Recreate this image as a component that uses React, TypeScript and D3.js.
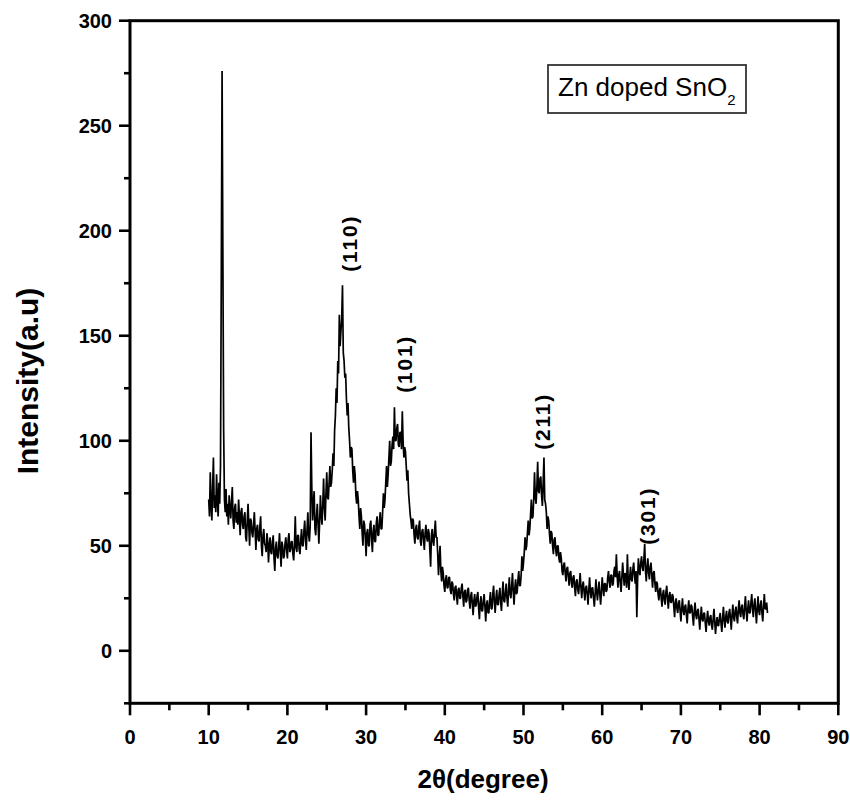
import React from "react";
import * as d3 from "d3";

const startAngle = 10.0;
const stepAngle = 0.1;
const intensity: number[] = [
  72, 64, 85, 70, 62, 78, 92, 68, 74, 66, 84, 72, 64, 80, 70, 88, 179, 276, 190, 105,
  72, 66, 77, 64, 70, 60, 74, 68, 63, 71, 78, 62, 58, 68, 70, 61, 66, 60, 72, 64,
  55, 66, 68, 60, 58, 64, 66, 54, 52, 62, 70, 59, 50, 63, 62, 56, 54, 60, 66, 57,
  48, 58, 60, 53, 52, 59, 64, 50, 45, 55, 58, 51, 50, 47, 56, 52, 42, 50, 54, 47,
  46, 52, 55, 44, 38, 49, 52, 45, 44, 50, 56, 47, 40, 52, 50, 44, 45, 51, 54, 48,
  44, 53, 56, 47, 48, 52, 52, 46, 43, 51, 64, 49, 47, 55, 55, 48, 46, 53, 58, 50,
  50, 57, 62, 53, 48, 58, 66, 55, 52, 60, 104, 78, 62, 70, 76, 58, 55, 64, 70, 60,
  51, 62, 74, 64, 60, 70, 82, 68, 62, 75, 85, 73, 72, 80, 88, 78, 80, 86, 94, 88,
  105, 112, 125, 118, 138, 132, 160, 145, 152, 158, 174, 142, 138, 130, 132, 120, 112, 118, 106, 100,
  92, 97, 96, 86, 80, 88, 84, 74, 70, 76, 72, 64, 58, 68, 64, 56, 50, 62, 60, 54,
  45, 56, 58, 50, 50, 60, 62, 53, 47, 57, 60, 52, 52, 61, 64, 55, 55, 62, 66, 58,
  58, 66, 75, 68, 72, 80, 88, 78, 84, 92, 100, 88, 90, 98, 102, 96, 116, 100, 100, 106,
  108, 98, 97, 104, 104, 96, 114, 100, 92, 97, 95, 88, 81, 86, 75, 70, 65, 62, 58, 63,
  62, 55, 51, 58, 60, 54, 53, 59, 62, 52, 50, 57, 58, 53, 48, 56, 60, 54, 52, 58,
  56, 48, 40, 55, 58, 52, 50, 57, 62, 54, 54, 46, 36, 44, 50, 38, 33, 40, 37, 31,
  28, 34, 36, 30, 30, 35, 35, 29, 27, 33, 32, 27, 24, 30, 31, 26, 22, 29, 30, 25,
  25, 30, 32, 26, 21, 28, 29, 23, 24, 29, 30, 24, 20, 26, 28, 22, 17, 24, 27, 21,
  22, 26, 28, 20, 15, 23, 26, 19, 19, 24, 27, 21, 14, 22, 24, 18, 18, 24, 28, 20,
  20, 27, 31, 23, 18, 25, 29, 22, 22, 27, 30, 23, 19, 27, 33, 24, 23, 28, 32, 25,
  21, 29, 35, 27, 25, 31, 37, 28, 22, 30, 34, 27, 28, 34, 38, 31, 31, 36, 45, 38,
  42, 47, 54, 48, 50, 56, 62, 55, 58, 65, 72, 63, 64, 72, 85, 73, 70, 78, 90, 76,
  75, 82, 83, 74, 69, 80, 92, 72, 70, 66, 58, 64, 62, 56, 51, 57, 56, 50, 46, 53,
  54, 48, 45, 50, 50, 44, 42, 47, 44, 38, 36, 41, 42, 37, 33, 39, 40, 35, 31, 37,
  38, 32, 30, 35, 36, 30, 26, 33, 34, 29, 27, 32, 37, 30, 25, 31, 33, 28, 24, 30,
  31, 27, 22, 29, 35, 28, 25, 30, 30, 25, 21, 27, 34, 28, 24, 29, 33, 27, 22, 28,
  35, 30, 26, 32, 32, 28, 29, 35, 38, 33, 30, 36, 36, 31, 32, 38, 40, 35, 46, 36,
  30, 36, 38, 32, 28, 35, 42, 36, 31, 37, 36, 30, 46, 34, 29, 35, 40, 34, 33, 39,
  42, 36, 32, 38, 16, 34, 44, 38, 36, 42, 45, 40, 38, 44, 51, 38, 33, 40, 44, 37,
  34, 40, 42, 36, 30, 37, 38, 32, 28, 33, 32, 27, 24, 29, 30, 25, 21, 27, 29, 24,
  22, 28, 31, 25, 20, 26, 28, 23, 23, 27, 26, 21, 16, 23, 25, 20, 18, 23, 24, 19,
  14, 20, 25, 19, 17, 21, 22, 17, 13, 20, 24, 18, 18, 22, 21, 16, 12, 19, 23, 17,
  15, 19, 20, 15, 10, 16, 21, 15, 14, 18, 18, 13, 9, 15, 19, 14, 12, 16, 17, 12,
  10, 15, 20, 14, 8, 13, 16, 12, 12, 16, 18, 13, 9, 15, 21, 15, 11, 16, 19, 14,
  13, 18, 20, 15, 10, 17, 22, 16, 14, 19, 21, 16, 13, 20, 24, 18, 16, 21, 22, 17,
  15, 21, 26, 19, 14, 20, 24, 18, 18, 23, 27, 20, 16, 22, 25, 19, 13, 20, 26, 19,
  17, 22, 24, 18, 14, 21, 27, 20, 20, 23, 18,
];

const xMajorTicks = [0, 10, 20, 30, 40, 50, 60, 70, 80, 90];
const xMinorTicks = [5, 15, 25, 35, 45, 55, 65, 75, 85];
const yMajorTicks = [0, 50, 100, 150, 200, 250, 300];
const yMinorTicks = [-25, 25, 75, 125, 175, 225, 275];

const peakLabels = ["(110)", "(101)", "(211)", "(301)"];
const peakAngles = [27.85, 34.85, 52.4, 65.7];
const peakHeights = [180.5, 122.8, 95.7, 50.5];

const legendText = "Zn doped SnO";
const legendSub = "2";
const xTitle = "2\u03b8(degree)";
const yTitle = "Intensity(a.u)";

const FONT = "'Liberation Sans', Arial, Helvetica, sans-serif";

export default function App() {
  const left = 130, right = 838.3, top = 20.7, bottom = 703.3;
  const x = d3.scaleLinear().domain([0, 90]).range([left, right]);
  const y = d3.scaleLinear().domain([-25, 300]).range([bottom, top]);

  const pts: [number, number][] = intensity.map((v, i) => [startAngle + i * stepAngle, v]);
  const line = d3.line<[number, number]>().x((d) => x(d[0])).y((d) => y(d[1]));

  return (
    <svg width={850} height={803} style={{ position: "absolute", left: 0, top: 0, background: "#fff" }}>
      <rect x={0} y={0} width={850} height={803} fill="#fff" />
      <path d={line(pts) || ""} fill="none" stroke="#000" strokeWidth={1.7} strokeLinejoin="bevel" />

      {/* frame */}
      <rect x={left} y={top} width={right - left} height={bottom - top} fill="none" stroke="#000" strokeWidth={3} />

      {/* x ticks */}
      {xMajorTicks.map((t) => (
        <g key={"xm" + t}>
          <line x1={x(t)} x2={x(t)} y1={bottom} y2={bottom + 12} stroke="#000" strokeWidth={2.6} />
          <text x={x(t)} y={744} textAnchor="middle" fontFamily={FONT} fontWeight="bold" fontSize={20} fill="#000">
            {t}
          </text>
        </g>
      ))}
      {xMinorTicks.map((t) => (
        <line key={"xn" + t} x1={x(t)} x2={x(t)} y1={bottom} y2={bottom + 7} stroke="#000" strokeWidth={2.6} />
      ))}

      {/* y ticks */}
      {yMajorTicks.map((t) => (
        <g key={"ym" + t}>
          <line x1={left - 11} x2={left} y1={y(t)} y2={y(t)} stroke="#000" strokeWidth={2.6} />
          <text x={112} y={y(t)} dy="0.36em" textAnchor="end" fontFamily={FONT} fontWeight="bold" fontSize={20} fill="#000">
            {t}
          </text>
        </g>
      ))}
      {yMinorTicks.map((t) => (
        <line key={"yn" + t} x1={left - 6} x2={left} y1={y(t)} y2={y(t)} stroke="#000" strokeWidth={2.6} />
      ))}

      {/* peak labels */}
      {peakLabels.map((lab, i) => {
        const px = x(peakAngles[i]);
        const py = y(peakHeights[i]);
        return (
          <text
            key={lab}
            transform={`translate(${px},${py}) rotate(-90)`}
            textAnchor="start"
            dy="0.36em"
            fontFamily={FONT}
            fontWeight="bold"
            fontSize={21}
            letterSpacing={1.8}
            fill="#000"
          >
            {lab}
          </text>
        );
      })}

      {/* legend */}
      <rect x={548} y={65} width={198} height={48} fill="#fff" stroke="#333" strokeWidth={1.8} />
      <text x={558} y={96} fontFamily={FONT} fontSize={26} fill="#000">
        {legendText}
        <tspan fontSize={15} dy={9}>{legendSub}</tspan>
      </text>

      {/* titles */}
      <text x={483} y={788} textAnchor="middle" fontFamily={FONT} fontWeight="bold" fontSize={26} fill="#000">
        {xTitle}
      </text>
      <text
        transform={`translate(38,${381}) rotate(-90)`}
        textAnchor="middle"
        fontFamily={FONT}
        fontWeight="bold"
        fontSize={30}
        fill="#000"
      >
        {yTitle}
      </text>
    </svg>
  );
}
